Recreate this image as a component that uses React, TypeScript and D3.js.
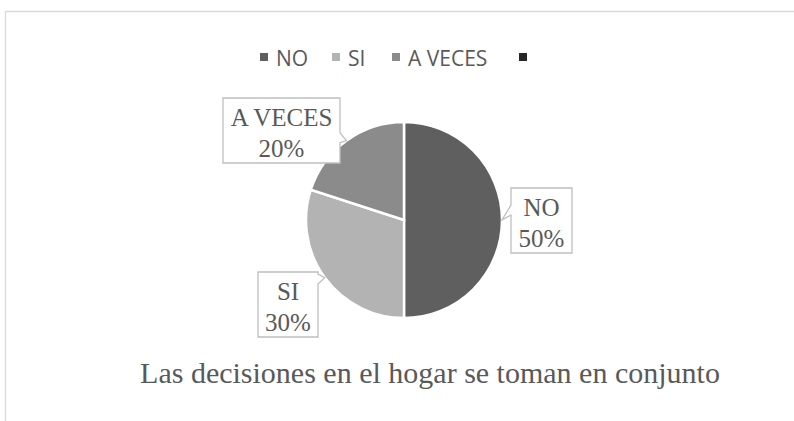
import React from 'react';
import * as d3 from 'd3';

const categories = ['NO', 'SI', 'A VECES'];
const values = [50, 30, 20];
const colors = ['#5f5f5f', '#b3b3b3', '#8b8b8b'];
const legendExtra = ''; // empty 4th legend entry in the original
const title = 'Las decisiones en el hogar se toman en conjunto';

const width = 794;
const height = 421;
const cx = 404;
const cy = 220;
const radius = 98;

const serif = "'Liberation Serif', 'Times New Roman', Times, serif";
const sans = "'Open Sans', 'Liberation Sans', sans-serif";

// callout boxes: offset of box (x, y, w, h) relative to the pie centre, plus which side the pointer sits on
const boxes = [
  { x: 107, y: -32, w: 61, h: 65, side: 'left' },
  { x: -146, y: 52, w: 60, h: 65, side: 'right' },
  { x: -181, y: -122, w: 117, h: 65, side: 'right' },
];

const legendX = [260, 332, 392, 519];

export default function App() {
  const pie = d3.pie<number>().sort(null).value(d => d);
  const arcs = pie(values);
  const arc = d3.arc<d3.PieArcDatum<number>>().innerRadius(0).outerRadius(radius);
  const total = d3.sum(values);

  const callout = (i: number) => {
    const a = arcs[i];
    const mid = (a.startAngle + a.endAngle) / 2;
    const tx = cx + radius * Math.sin(mid);
    const ty = cy - radius * Math.cos(mid);
    const b = boxes[i];
    const x0 = cx + b.x;
    const y0 = cy + b.y;
    const x1 = x0 + b.w;
    const y1 = y0 + b.h;
    const p = d3.path();
    if (b.side === 'left') {
      const by = Math.min(Math.max(ty - 15, y0 + 2), y1 - 12);
      p.moveTo(x0, y0);
      p.lineTo(x1, y0);
      p.lineTo(x1, y1);
      p.lineTo(x0, y1);
      p.lineTo(x0, by + 10);
      p.lineTo(tx, ty);
      p.lineTo(x0, by);
      p.closePath();
    } else {
      const by = Math.min(Math.max(ty - 8, y0 + 2), y1 - 12);
      p.moveTo(x0, y0);
      p.lineTo(x1, y0);
      p.lineTo(x1, by);
      p.lineTo(tx, ty);
      p.lineTo(x1, by + 10);
      p.lineTo(x1, y1);
      p.lineTo(x0, y1);
      p.closePath();
    }
    const pct = d3.format('.0%')(values[i] / total);
    const mx = (x0 + x1) / 2;
    return (
      <g key={'c' + i}>
        <path d={p.toString()} fill="#ffffff" stroke="#bfbfbf" strokeWidth={1.3} />
        <text
          x={mx}
          y={y0 + 28}
          textAnchor="middle"
          style={{ fontFamily: serif, fontSize: '25px', fill: '#595959' }}
        >
          <tspan x={mx}>{categories[i]}</tspan>
          <tspan x={mx} dy={31}>{pct}</tspan>
        </text>
      </g>
    );
  };

  return (
    <svg
      width={width}
      height={height}
      style={{ position: 'absolute', left: 0, top: 0, background: '#fff' }}
    >
      <rect x={0} y={0} width={width} height={height} fill="#ffffff" />
      {/* chart frame, cropped on the right and bottom */}
      <path d={`M5.5,${height} V11.5 H${width}`} fill="none" stroke="#d9d9d9" strokeWidth={1.3} />

      {/* legend */}
      {[...categories, legendExtra].map((c, i) => (
        <g key={'l' + i}>
          <rect
            x={legendX[i]}
            y={53}
            width={8}
            height={8}
            fill={i < colors.length ? colors[i] : '#262626'}
          />
          <text
            x={legendX[i] + 16}
            y={65.5}
            style={{ fontFamily: sans, fontSize: '21px', fill: '#595959' }}
          >
            {c}
          </text>
        </g>
      ))}

      {/* slices */}
      <g transform={`translate(${cx},${cy})`}>
        {arcs.map((a, i) => (
          <path key={'s' + i} d={arc(a) || ''} fill={colors[i]} stroke="#ffffff" strokeWidth={2.5} />
        ))}
      </g>

      {arcs.map((_, i) => callout(i))}

      <text
        x={cx + 26}
        y={383}
        textAnchor="middle"
        style={{ fontFamily: serif, fontSize: '30px', fill: '#595959' }}
      >
        {title}
      </text>
    </svg>
  );
}
